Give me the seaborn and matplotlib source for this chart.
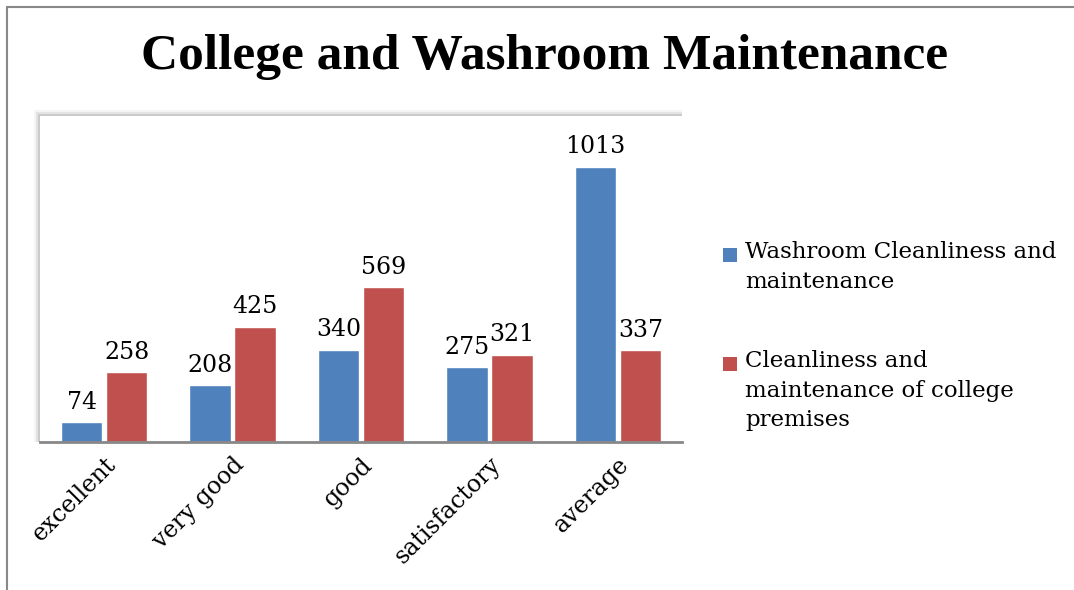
import matplotlib
matplotlib.use("Agg")
import matplotlib.pyplot as plt
import seaborn as sns
import pandas as pd
from matplotlib.lines import Line2D
from matplotlib.patches import Rectangle

categories = ["excellent", "very good", "good", "satisfactory", "average"]
washroom = [74, 208, 340, 275, 1013]
premises = [258, 425, 569, 321, 337]
series_names = ["Washroom Cleanliness and\nmaintenance",
                "Cleanliness and\nmaintenance of college\npremises"]
colors = ["#4F81BD", "#C0504D"]

df = pd.DataFrame({
    "category": categories * 2,
    "value": washroom + premises,
    "series": [series_names[0]] * 5 + [series_names[1]] * 5,
})

sns.set_style("white")
plt.rcParams["font.family"] = ["DejaVu Serif"]
plt.rcParams["text.color"] = "black"
plt.rcParams["xtick.color"] = "black"

W, H = 1074, 590
fig = plt.figure(figsize=(W / 100, H / 100), dpi=100)
ax = fig.add_axes([40 / W, 1 - 442 / H, 642 / W, 326 / H])

# soft shadow behind plot area
for i, a in enumerate([0.10, 0.07, 0.04]):
    d = (i + 1) * 2
    fig.add_artist(Rectangle(((40 - d) / W, 1 - 442 / H), (642 + d) / W, (326 + d) / H,
                             transform=fig.transFigure, facecolor="#000000", alpha=a,
                             edgecolor="none", zorder=0))

sns.barplot(data=df, x="category", y="value", hue="series",
            palette=colors, width=0.7, gap=0.08,
            saturation=1, ax=ax, legend=False, zorder=2)
ax.set_facecolor("white")
ax.set_zorder(1)
ax.set_ylim(0, 1200)
ax.set_yticks([])
ax.set_xlabel("")
ax.set_ylabel("")
for s in ["top", "right", "left"]:
    ax.spines[s].set_visible(False)
ax.spines["bottom"].set_color("#888888")
ax.spines["bottom"].set_linewidth(2)
ax.tick_params(axis="x", length=0, pad=8)
plt.setp(ax.get_xticklabels(), rotation=45, ha="right", rotation_mode="anchor", fontsize=17)

for cont in ax.containers:
    ax.bar_label(cont, fontsize=17, padding=6)

# legend: square marker beside the first line of each wrapped label
legend_rows = [255, 364]
for name, col, y in zip(series_names, colors, legend_rows):
    fig.add_artist(Rectangle((723 / W, 1 - (y + 7) / H), 14 / W, 14 / H,
                             transform=fig.transFigure, facecolor=col, edgecolor="none"))
    fig.text(745 / W, 1 - (y - 14) / H, name, ha="left", va="top",
             fontsize=16.5, linespacing=1.45)

fig.text(545 / W, 1 - 57 / H, "College and Washroom Maintenance", ha="center", va="center",
         fontsize=37, fontweight="bold", family="Liberation Serif")

# outer chart border (left and top)
fig.add_artist(Line2D([7 / W, 7 / W], [0, 1 - 7 / H], color="#888888", lw=1.5))
fig.add_artist(Line2D([7 / W, 1], [1 - 7 / H, 1 - 7 / H], color="#888888", lw=1.5))

fig.savefig("out.png", dpi=100)
